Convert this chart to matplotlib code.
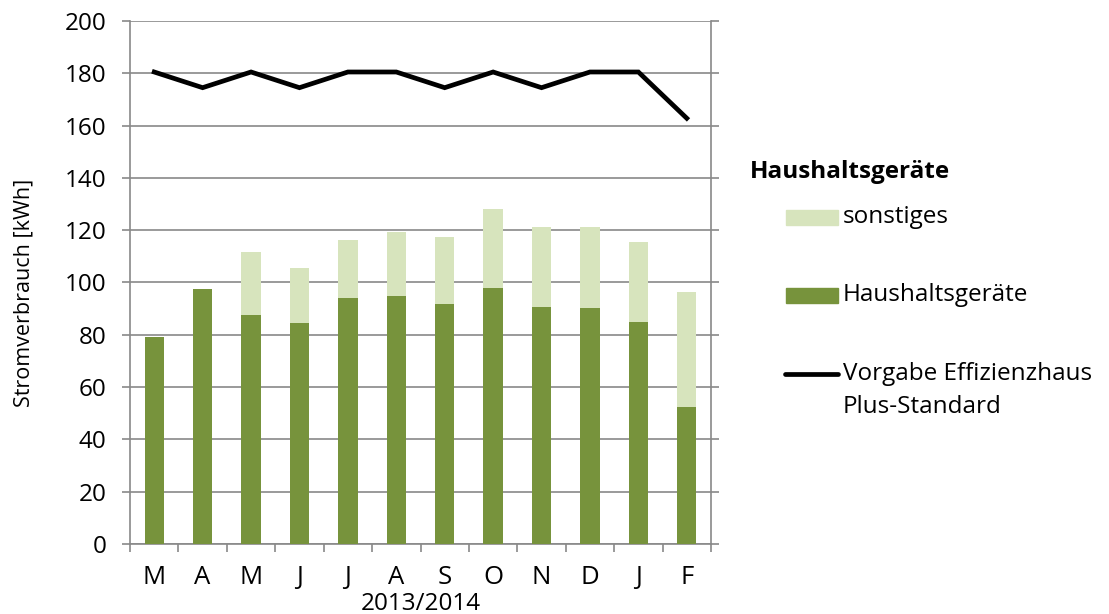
import matplotlib
matplotlib.use("Agg")
import matplotlib.pyplot as plt
import numpy as np
from matplotlib.patches import Rectangle
from matplotlib.lines import Line2D

plt.rcParams['font.family'] = ['Open Sans', 'DejaVu Sans']

months = ["M", "A", "M", "J", "J", "A", "S", "O", "N", "D", "J", "F"]
haushalt = [79.0, 97.7, 87.4, 84.7, 94.0, 94.8, 91.7, 97.9, 90.5, 90.1, 85.0, 52.4]
gesamt = [79.0, 97.7, 111.5, 105.5, 116.3, 119.4, 117.4, 128.1, 121.1, 121.2, 115.3, 96.2]
vorgabe = [180.5, 174.5, 180.5, 174.5, 180.5, 180.5, 174.5, 180.5, 174.5, 180.5, 180.5, 162.8]

sonstiges = [g - h for g, h in zip(gesamt, haushalt)]

dark = '#77933C'
light = '#D7E4BD'
grey = '#898989'
fs = 17.5

W, H = 1109, 614
fig = plt.figure(figsize=(W / 100, H / 100), dpi=100)
ax = fig.add_axes([130 / W, 1 - 544 / H, 581 / W, 523 / H])

x = np.arange(len(months))
ax.bar(x, haushalt, width=0.4, color=dark, zorder=3)
ax.bar(x, sonstiges, width=0.4, bottom=haushalt, color=light, zorder=3)
ax.plot(x, vorgabe, color='black', lw=3.4, zorder=4, solid_joinstyle='miter')

ax.set_xlim(-0.5, 11.5)
ax.set_ylim(0, 200)
ax.set_yticks(np.arange(0, 201, 20))
ax.yaxis.grid(True, color=grey, lw=1.2, zorder=0)
ax.set_axisbelow(True)

ax.set_xticks(x)
ax.set_xticklabels(months, fontsize=18.5)
ax.set_xticks(np.arange(-0.5, 12, 1), minor=True)
ax.tick_params(axis='x', which='major', length=0, pad=15)
ax.tick_params(axis='x', which='minor', length=6, width=1.2, color=grey, direction='out')
ax.tick_params(axis='y', which='major', length=6, width=1.2, color=grey,
               direction='out', left=True, right=True, labelsize=fs, pad=11)

for s in ['left', 'right', 'bottom']:
    ax.spines[s].set_color(grey)
    ax.spines[s].set_linewidth(1.2)
ax.spines['top'].set_visible(False)

ax.set_xlabel('2013/2014', fontsize=fs, va='center')
ax.xaxis.set_label_coords(0.5, -0.115)
ax.set_ylabel('Stromverbrauch [kWh]', fontsize=15.5, va='center')
ax.yaxis.set_label_coords(-0.182, 0.481)


def fx(px):
    return px / W


def fy(py):
    return 1 - py / H


# legend drawn on the figure
fig.text(fx(750), fy(172), 'Haushaltsgeräte', fontsize=fs, fontweight='bold', va='center', ha='left')
fig.patches.append(Rectangle((fx(786), fy(225)), fx(52), 15 / H, color=light, transform=fig.transFigure))
fig.text(fx(843), fy(217), 'sonstiges', fontsize=fs, va='center', ha='left')
fig.patches.append(Rectangle((fx(786), fy(303)), fx(52), 15 / H, color=dark, transform=fig.transFigure))
fig.text(fx(843), fy(295), 'Haushaltsgeräte', fontsize=fs, va='center', ha='left')
fig.lines.append(Line2D([fx(785), fx(838)], [fy(374), fy(374)], color='black', lw=3.4,
                        solid_capstyle='round', transform=fig.transFigure))
fig.text(fx(843), fy(374), 'Vorgabe Effizienzhaus', fontsize=fs, va='center', ha='left')
fig.text(fx(843), fy(407), 'Plus-Standard', fontsize=fs, va='center', ha='left')

fig.savefig('out.png', dpi=100)
